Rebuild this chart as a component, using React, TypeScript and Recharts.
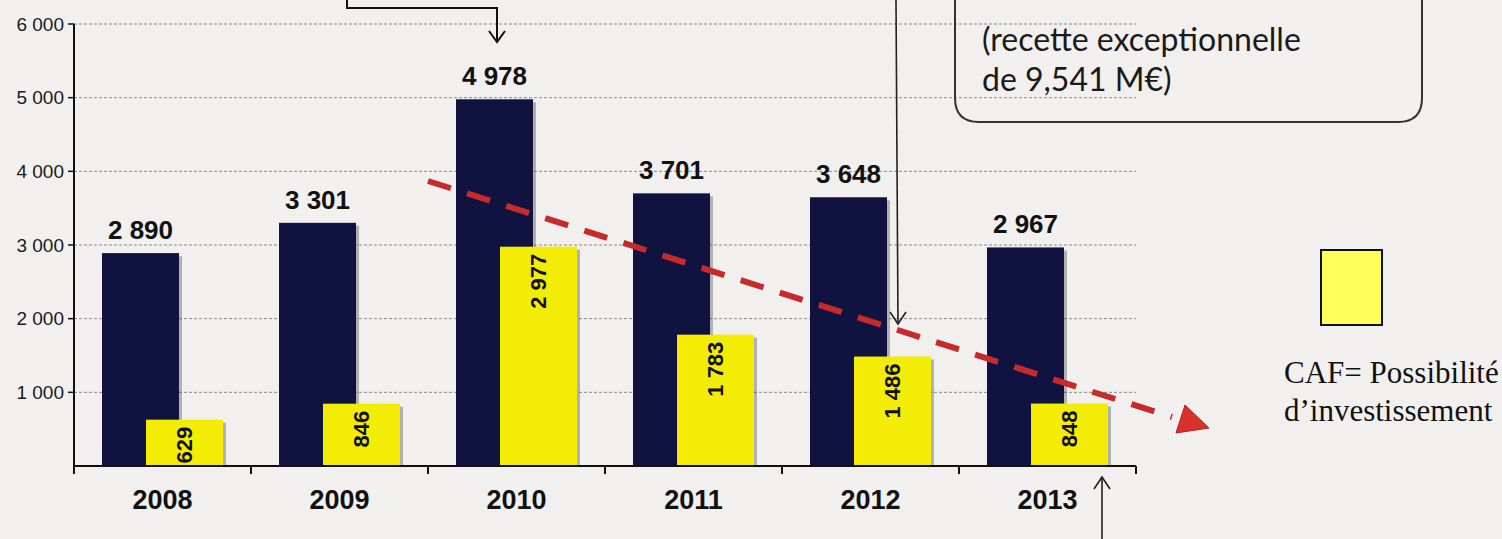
import React from "react";
import {
  Bar,
  BarChart,
  CartesianGrid,
  LabelList,
  Legend,
  XAxis,
  YAxis
} from "recharts";

const years = ["2008", "2009", "2010", "2011", "2012", "2013"];
const totalValues = [2890, 3301, 4978, 3701, 3648, 2967];
const cafValues = [629, 846, 2977, 1783, 1486, 848];
const yTicks = [1000, 2000, 3000, 4000, 5000, 6000];

const data = years.map((year, i) => ({
  year,
  total: totalValues[i],
  caf: cafValues[i]
}));

const W = 1502;
const H = 539;
const PLOT_LEFT = 74;
const PLOT_RIGHT = 1136;
const BAND = (PLOT_RIGHT - PLOT_LEFT) / years.length;

const NAVY = "#10123f";
const YELLOW = "#f3ed06";
const BG = "#f2f0ee";
const SANS = "'Liberation Sans', Arial, sans-serif";

const fmt = (v: any) => String(v).replace(/\B(?=(\d{3})+(?!\d))/g, " ");

// bar with the soft grey shadow of the printed chart
const ShadowBar = (props: any) => {
  const { x, y, width, height, fill } = props;
  if (!height || height <= 0) return null;
  return (
    <g>
      <rect x={x + 3} y={y + 3} width={width} height={Math.max(0, height - 3)} fill="#222" opacity={0.3} />
      <rect x={x} y={y} width={width} height={height} fill={fill} />
    </g>
  );
};

const CafLabel = (props: any) => {
  const { x, y, width, value } = props;
  const cx = x + width / 2;
  const ty = y + 7;
  return (
    <text
      x={cx}
      y={ty}
      transform={`rotate(-90 ${cx} ${ty})`}
      textAnchor="end"
      dominantBaseline="central"
      fontFamily={SANS}
      fontWeight="bold"
      fontSize={22}
      fill="#111"
    >
      {fmt(value)}
    </text>
  );
};

const YearTick = (props: any) => {
  const { x, y, payload, index } = props;
  return (
    <g>
      <line x1={x - BAND / 2} y1={y} x2={x - BAND / 2} y2={y + 8} stroke="#111" strokeWidth={2} />
      {index === years.length - 1 && (
        <line x1={x + BAND / 2} y1={y} x2={x + BAND / 2} y2={y + 8} stroke="#111" strokeWidth={2} />
      )}
      <text x={x} y={y + 43} textAnchor="middle" fontFamily={SANS} fontWeight="bold" fontSize={27} fill="#111">
        {payload.value}
      </text>
    </g>
  );
};

const CafLegend = () => (
  <div style={{ fontFamily: "'Liberation Serif', 'Times New Roman', serif", fontSize: 31, color: "#111", lineHeight: "38px" }}>
    <div style={{ width: 59, height: 73, background: "#ffff5c", border: "2px solid #111", marginLeft: 36, marginBottom: 28 }} />
    <div style={{ whiteSpace: "nowrap" }}>CAF= Possibilité</div>
    <div style={{ whiteSpace: "nowrap" }}>d’investissement</div>
  </div>
);

const Annotations = () => (
  <svg width={W} height={H} style={{ position: "absolute", left: 0, top: 0, pointerEvents: "none" }}>
    {/* elbow arrow top left */}
    <polyline points="347,0 347,8 497,8 497,41" fill="none" stroke="#111" strokeWidth={2} />
    <polyline points="489,31 497,42 505,31" fill="none" stroke="#111" strokeWidth={2} />
    {/* long arrow to 2012 */}
    <line x1={896} y1={0} x2={898} y2={323} stroke="#222" strokeWidth={1.6} />
    <polyline points="890,312 898,324 906,312" fill="none" stroke="#222" strokeWidth={1.6} />
    {/* rounded note box */}
    <path d="M 955 -10 L 955 98 Q 955 122 979 122 L 1398 122 Q 1422 122 1422 98 L 1422 -10" fill="none" stroke="#333" strokeWidth={2} />
    <text x={982} y={51} fontFamily="Lato, 'Open Sans', sans-serif" fontSize={32} fill="#1a1a1a">
      (recette exceptionnelle
    </text>
    <text x={982} y={91} fontFamily="Lato, 'Open Sans', sans-serif" fontSize={32} fill="#1a1a1a">
      de 9,541 M€)
    </text>
    {/* arrow under 2013 */}
    <line x1={1102} y1={539} x2={1102} y2={478} stroke="#222" strokeWidth={1.6} />
    <polyline points="1094,489 1102,477 1110,489" fill="none" stroke="#222" strokeWidth={1.6} />
    {/* red dashed trend */}
    <line x1={428} y1={181} x2={1172} y2={417} stroke="#c62a2a" strokeWidth={6} strokeDasharray="24 17" />
    <polygon points="1209,428 1185,405 1176,433" fill="#d8322a" stroke="#b02020" strokeWidth={1} />
  </svg>
);

export default function App() {
  return (
    <div style={{ position: "absolute", left: 0, top: 0, width: W, height: H, background: BG, overflow: "hidden" }}>
      <BarChart
        width={W}
        height={H}
        data={data}
        margin={{ top: 24, right: W - PLOT_RIGHT, left: PLOT_LEFT - 70, bottom: 23 }}
        barSize={77}
        barGap={-33}
      >
        <CartesianGrid vertical={false} stroke="#8a8a8a" strokeDasharray="3 2" />
        <XAxis
          dataKey="year"
          height={50}
          tickLine={false}
          tickSize={0}
          tickMargin={0}
          axisLine={{ stroke: "#111", strokeWidth: 2 }}
          tick={<YearTick />}
          interval={0}
        />
        <YAxis
          width={70}
          domain={[0, 6000]}
          ticks={yTicks}
          tickFormatter={fmt}
          tickSize={6}
          tickMargin={4}
          axisLine={{ stroke: "#111", strokeWidth: 2 }}
          tickLine={{ stroke: "#111", strokeWidth: 1.5 }}
          tick={{ fill: "#1a1a1a", fontSize: 19, fontFamily: SANS }}
        />
        <Legend
          layout="horizontal"
          verticalAlign="middle"
          align="center"
          content={<CafLegend />}
          wrapperStyle={{ position: "absolute", left: 1284, top: 249, width: 218 }}
        />
        <Bar dataKey="total" name="Total" fill={NAVY} shape={<ShadowBar />} isAnimationActive={false}>
          <LabelList
            dataKey="total"
            position="top"
            offset={14}
            formatter={fmt}
            fill="#111"
            fontSize={26}
            fontWeight="bold"
            fontFamily={SANS}
          />
        </Bar>
        <Bar dataKey="caf" name="CAF" fill={YELLOW} shape={<ShadowBar />} isAnimationActive={false}>
          <LabelList dataKey="caf" content={<CafLabel />} />
        </Bar>
      </BarChart>
      <Annotations />
    </div>
  );
}
